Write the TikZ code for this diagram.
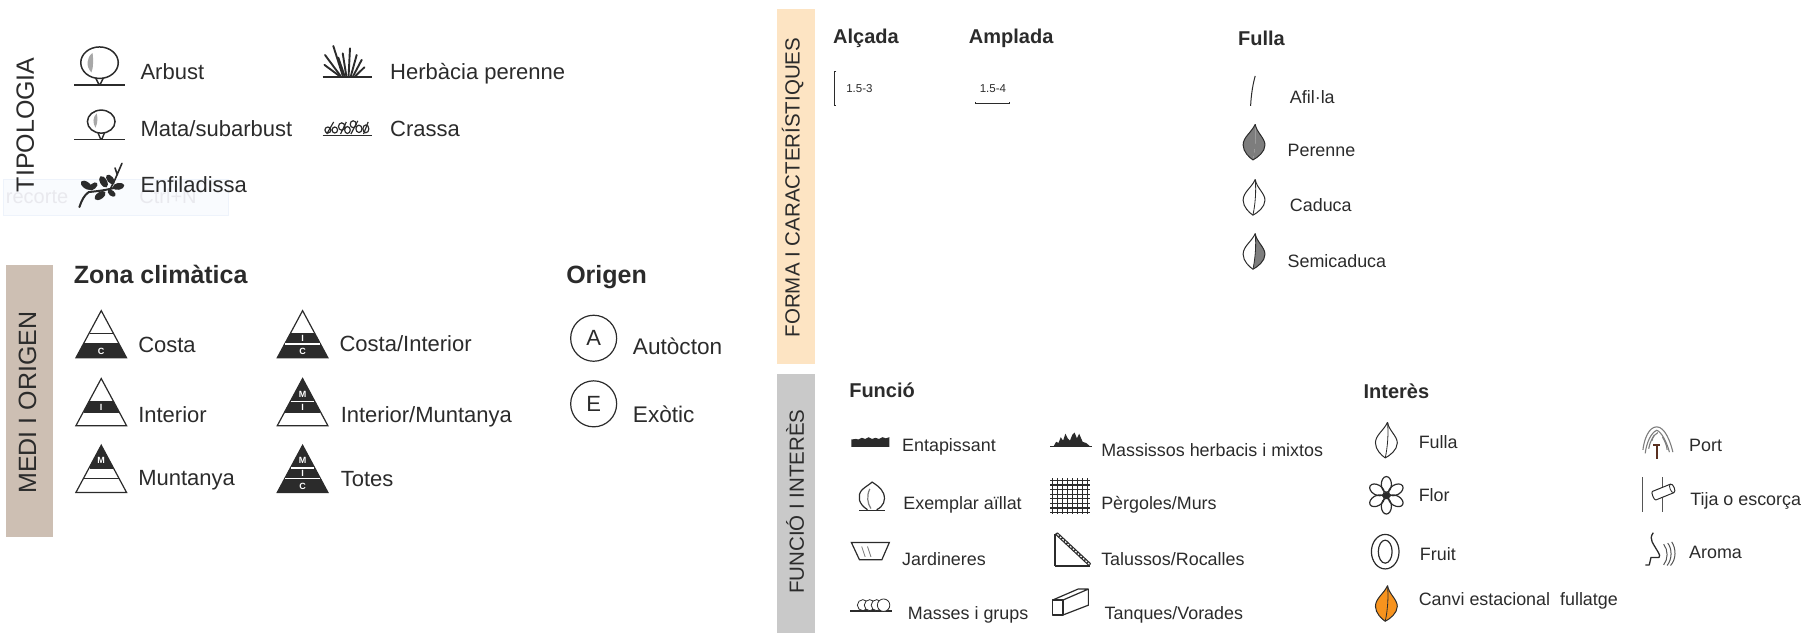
\documentclass[tikz,border=0pt]{standalone}
\usepackage{fontspec}
\setmainfont{Liberation Sans}
\definecolor{ink}{HTML}{2B2B2B}
\definecolor{peach}{HTML}{FDE4C3}
\definecolor{tan}{HTML}{CDBFB3}
\definecolor{bargrey}{HTML}{C9C9C9}
\definecolor{leafgrey}{HTML}{7D7D7D}
\definecolor{blobgrey}{HTML}{A8A8A8}
\definecolor{autumn}{HTML}{F7931E}
\definecolor{palebox}{HTML}{F9FBFE}
\definecolor{paleedge}{HTML}{EEF3FB}
\definecolor{paletext}{HTML}{E9E9EE}
\definecolor{trunk}{HTML}{5A3020}
\tikzset{
  lab/.style={anchor=mid west,inner sep=0pt,yshift=-5.7pt,text=ink,font=\fontsize{22}{24}\selectfont},
  labs/.style={anchor=mid west,inner sep=0pt,yshift=-4.5pt,text=ink,font=\fontsize{17.9}{20}\selectfont},
  head/.style={anchor=mid west,inner sep=0pt,yshift=-7pt,text=ink,font=\bfseries\fontsize{25}{27}\selectfont},
  heads/.style={anchor=mid west,inner sep=0pt,yshift=-4.5pt,text=ink,font=\bfseries\fontsize{20}{22}\selectfont},
  side/.style={rotate=90,inner sep=0pt,text=ink},
  tl/.style={inner sep=0pt,text=white,font=\bfseries\fontsize{9}{10}\selectfont},
  num/.style={inner sep=0pt,text=ink,font=\fontsize{11.5}{12}\selectfont},
  pale/.style={anchor=mid west,inner sep=0pt,yshift=-4.5pt,text=paletext,font=\fontsize{20}{22}\selectfont},
  ic/.style={draw=ink,line width=1.2pt},
  thin/.style={draw=ink,line width=0.8pt},
  ground/.style={draw=ink,line width=1.3pt},
  blade/.style={draw=ink,line width=1.9pt,line cap=round},
  origc/.style={draw=ink,line width=1.2pt,circle,minimum size=46pt,inner sep=0pt,text=ink,font=\fontsize{22}{24}\selectfont},
  portline/.style={draw=leafgrey,line width=1.1pt},
  waveline/.style={draw=ink!80,line width=1pt},
}
\newcommand{\climtri}[8]{%
\begin{scope}[shift={(#1,#2)}]
  \fill[#3] (0,0) -- (10.6,19.7) -- (-10.6,19.7) -- cycle;
  \fill[#4] (10.6,19.7) -- (15.6,29) -- (-15.6,29) -- (-10.6,19.7) -- cycle;
  \fill[#5] (15.6,29) -- (22,41) -- (-22,41) -- (-15.6,29) -- cycle;
  \draw[ic,line join=miter] (0,0) -- (22,41) -- (-22,41) -- cycle;
  \draw[#6,line width=1.3pt] (-10.2,19.7) -- (10.2,19.7);
  \draw[#7,line width=1.3pt] (-15.2,29) -- (15.2,29);
  #8
\end{scope}}
\newcommand{\leaficon}[5]{%
\begin{scope}[shift={(#1,#2)}]
  \fill[#3] (1,-16) .. controls (-2,-9) and (-9.5,-5) .. (-9.5,2) .. controls (-9.5,8) and (-4,13) .. (-1,15) .. controls (1,6) and (2,-6) .. (1,-16) -- cycle;
  \fill[#4] (1,-16) .. controls (2,-9) and (9.5,-4) .. (9.5,2) .. controls (9.5,8) and (3,13) .. (-1,15) .. controls (1,6) and (2,-6) .. (1,-16) -- cycle;
  \draw[draw=ink,line width=1pt,line join=round] (1,-16) .. controls (2,-9) and (9.5,-4) .. (9.5,2) .. controls (9.5,8) and (3,13) .. (-1,15) .. controls (-4,13) and (-9.5,8) .. (-9.5,2) .. controls (-9.5,-5) and (-2,-9) .. (1,-16);
  \path[#5] (-1,15) .. controls (1,6) and (2,-6) .. (1,-16);
\end{scope}}
\begin{document}
\begin{tikzpicture}[x=1.1505pt,y=-1.1505pt]
\useasboundingbox (0,0) rectangle (1568,550);
% bars
\fill[tan] (5,230) rectangle (46,467);
\fill[peach] (675,8) rectangle (708,316);
\fill[bargrey] (675,325) rectangle (708,550);
% pale box
\path[fill=palebox,draw=paleedge] (3,156) rectangle (198,187);
\node[pale] (recorte) at (5,171) {recorte};
\node[pale] (ctrln) at (121,171) {Ctrl+N};
% side labels
\node[side,font=\fontsize{25}{27}\selectfont] (tipologia) at (22,108.5) {TIPOLOGIA};
\node[side,font=\fontsize{25}{27}\selectfont] (medi) at (24,350) {MEDI I ORIGEN};
\node[side,font=\fontsize{20.5}{22}\selectfont] (forma) at (689,163) {FORMA I CARACTERÍSTIQUES};
\node[side,font=\fontsize{20.5}{23}\selectfont] (funcio) at (691,436) {FUNCIÓ I INTERÈS};
% tipologia labels
\node[lab] (arbust) at (122,62) {Arbust};
\node[lab] (mata) at (122,111) {Mata/subarbust};
\node[lab] (enf) at (122,160) {Enfiladissa};
\node[lab] (herb) at (339,62) {Herbàcia perenne};
\node[lab] (crassa) at (339,111) {Crassa};
% arbust icon
\draw[ground] (64.5,74) -- (108.5,74);
\draw[ic,line width=1.5pt] (86.5,54.5) ellipse (16.3 and 13.7);
\draw[ic,line width=1.5pt] (83,67.5) -- (86,73.5) (90,67.5) -- (87,73.5);
\fill[blobgrey] (80.5,46) .. controls (75,50) and (74.5,58) .. (79.5,63) .. controls (81.5,58) and (81,51) .. (80.5,46) -- cycle;
% mata icon
\draw[ground] (64.5,121.5) -- (108.5,121.5);
\draw[ic,line width=1.5pt] (88,105.7) ellipse (12 and 10);
\draw[ic,line width=1.4pt] (85,115) -- (87.5,121) (91,115) -- (88.5,121);
\fill[blobgrey] (84,98.5) .. controls (80.5,102) and (80.5,107) .. (83,111) .. controls (85,107) and (85,102) .. (84,98.5) -- cycle;
% enfiladissa icon
\draw[draw=ink,line width=2pt,line cap=round] (69,180) .. controls (71,174) and (73,170) .. (77,167) .. controls (84,166) and (92,166) .. (107,161);
\draw[draw=ink,line width=1.6pt,line cap=round] (95,166) -- (100,156) -- (106,142) (102,152) -- (100,146);
\fill[ink,rotate around={-35:(75,161)}] (75,161) ellipse (5.5 and 3);
\fill[ink,rotate around={40:(81,162)}] (81,162) ellipse (4.5 and 2.5);
\fill[ink,rotate around={35:(87,170)}] (87,170) ellipse (5.5 and 3);
\fill[ink,rotate around={-60:(90,158)}] (90,158) ellipse (5.5 and 3);
\fill[ink,rotate around={-50:(96,156)}] (96,156) ellipse (5 and 2.8);
\fill[ink,rotate around={10:(103,162)}] (103,162) ellipse (5 and 3);
\fill[ink,rotate around={-40:(100,169)}] (97,170) ellipse (4 and 2.4);
% herbacia icon
\draw[ground] (280.5,67) -- (323.5,67);
\foreach \tipx/\tipy/\basex in {282/56.4/295,282.5/47.8/296,289.7/40/298,294/50/299.5,297.9/46.4/301,304.2/42/303,310/47.8/305,314.4/52/307,316.7/58.5/309}{
  \draw[blade] (\basex,66) -- (\tipx,\tipy);
}
% crassa icon
\draw[ground] (280.5,117.5) -- (323.5,117.5);
\foreach \cx/\cy/\crx/\cry in {285/113/2.6/2.6,291/113/2.4/2.6,297/110/2.8/3.2,302/113/2.4/3,307/108/2.6/3,312/112/2.6/3.2,318/112/2.6/3.4}{
  \draw[draw=ink,line width=1.2pt] (\cx,\cy) ellipse ({\crx} and {\cry});
}
\draw[draw=ink,line width=1.2pt] (284,116.5) -- (290,106) (296,116.5) -- (301,106) (305,116.5) -- (311,105) (316,116.5) -- (320,106);
% medi
\node[head] (zona) at (64,238) {Zona climàtica};
\node[head] (origen) at (492,238) {Origen};
\climtri{88}{270}{white}{white}{ink}{ink}{ink}{\node[tl] (c1) at (0,35.5) {C};}
\climtri{88}{329}{white}{ink}{white}{ink}{ink}{\node[tl] (i1) at (0,25) {I};}
\climtri{88}{387}{ink}{white}{white}{ink}{ink}{\node[tl] (m1) at (0,13.5) {M};}
\climtri{263}{270}{white}{ink}{ink}{ink}{white}{\node[tl] (i2) at (0,24.5) {I};\node[tl] (c2) at (0,35.5) {C};}
\climtri{263}{329}{ink}{ink}{white}{white}{ink}{\node[tl] (m2) at (0,13.5) {M};\node[tl] (i3) at (0,25) {I};}
\climtri{263}{387}{ink}{ink}{ink}{white}{white}{\node[tl] (m3) at (0,13.5) {M};\node[tl] (i4) at (0,24.5) {I};\node[tl] (c3) at (0,35.5) {C};}
\node[lab] (costa) at (120,299) {Costa};
\node[lab] (interior) at (120,360) {Interior};
\node[lab] (muntanya) at (120,415) {Muntanya};
\node[lab] (costaint) at (295,298) {Costa/Interior};
\node[lab] (intmun) at (296,360) {Interior/Muntanya};
\node[lab] (totes) at (296,416) {Totes};
\node[origc] (autoc) at (516,294) {A};
\node[origc] (exot) at (516,351) {E};
\node[lab,font=\fontsize{22.6}{24}\selectfont] (aut) at (550,301) {Autòcton};
\node[lab,font=\fontsize{22.6}{24}\selectfont] (exo) at (550,360) {Exòtic};
% forma
\node[heads] (alc) at (724,32) {Alçada};
\node[heads] (amp) at (842,32) {Amplada};
\node[heads] (ful) at (1076,33) {Fulla};
\draw[thin] (727,62) -- (725,62) -- (725,92) -- (727,92);
\node[num] (n1) at (747,77) {1.5-3};
\node[num] (n2) at (863,77) {1.5-4};
\draw[thin] (848,88.5) -- (848,90) -- (877,90) -- (877,88.5);
\draw[draw=ink,line width=1pt] (1087,92) .. controls (1087.5,82) and (1089,73) .. (1091,66);
\node[labs] (afil) at (1121,84) {Afil·la};
\leaficon{1090}{124}{leafgrey}{leafgrey}{draw=none}
\node[labs] (peren) at (1119,130) {Perenne};
\leaficon{1090}{172}{white}{white}{draw=ink,line width=0.8pt}
\node[labs] (cadu) at (1121,178) {Caduca};
\leaficon{1090}{219}{white}{leafgrey}{draw=ink,line width=0.8pt}
\node[labs] (semi) at (1119,226) {Semicaduca};
% funcio
\node[heads] (func) at (738,339) {Funció};
\node[heads] (inter) at (1185,340) {Interès};
\node[labs] (ent) at (784,386) {Entapissant};
\node[labs] (exem) at (785,437) {Exemplar aïllat};
\node[labs] (jard) at (784,485) {Jardineres};
\node[labs] (mass) at (789,532) {Masses i grups};
\node[labs] (maher) at (957,391) {Massissos herbacis i mixtos};
\node[labs] (perg) at (957,437) {Pèrgoles/Murs};
\node[labs] (talu) at (957,485) {Talussos/Rocalles};
\node[labs] (tanq) at (960,532) {Tanques/Vorades};
\node[labs] (fi) at (1233,384) {Fulla};
\node[labs] (flor) at (1233,430) {Flor};
\node[labs] (fruit) at (1234,481) {Fruit};
\node[labs] (canvi) at (1233,520) {Canvi estacional\hspace{10pt}fullatge};
\node[labs] (port) at (1468,386) {Port};
\node[labs] (tija) at (1469,433) {Tija o escorça};
\node[labs] (aroma) at (1468,479) {Aroma};
% entapissant
\fill[ink] (740,388.5) -- (740,382) -- (744,381.5) -- (746,382) -- (749,380.5) -- (752,381.5) -- (755,380) -- (758,381.5) -- (761,380.5) -- (764,381.5) -- (767,380) -- (770,381) -- (773,380) -- (773,388.5) -- cycle;
% exemplar
\draw[ground] (747,443.5) -- (769,443.5);
\draw[ic] (754,443) .. controls (746,438) and (745,431) .. (749,426) .. controls (752,423) and (756,421) .. (758,419) .. controls (761,421) and (766,424) .. (768,429) .. controls (770,435) and (768,440) .. (762,443);
\draw[draw=leafgrey,line width=1.2pt] (756,425) .. controls (753,431) and (754,438) .. (757,442);
% jardineres
\draw[ic,line join=miter] (740,471.5) -- (773,471.5) -- (766.5,486.5) -- (747,486.5) -- cycle;
\draw[draw=leafgrey,line width=0.8pt] (749,475) -- (752,484) (754,475) -- (757,484);
% masses
\draw[ground] (739,531) -- (775,531);
\draw[thin] (750,526) circle (4.8);
\draw[thin,fill=white] (756,526) circle (4.8);
\draw[thin,fill=white] (762,526) circle (4.8);
\draw[thin,fill=white] (768,526) circle (5.4);
% massissos
\draw[ground] (913,388) -- (949,388);
\fill[ink] (916,387.5) -- (918,384) -- (920,385) -- (922,380) -- (924,383) -- (926,377) -- (928,381) -- (930,383) -- (932,378) -- (934,376) -- (936,381) -- (938,377) -- (941,384) -- (944,385) -- (947,387.5) -- cycle;
% pergoles
\foreach \k in {0,1,...,7}{
  \draw[draw=ink,line width=1.2pt] ({915+\k*4.3},415.5) -- ({915+\k*4.3},447);
  \draw[draw=ink,line width=1.2pt] (913,{417.5+\k*4}) -- (947,{417.5+\k*4});
}
% talussos
\draw[ic,line join=miter] (917,492) -- (917,464) (917,492) -- (947,492);
\draw[draw=ink,line width=1pt] (917,464) -- (947,492);
\draw[draw=ink,line width=1pt] (919,463) -- (948,490);
\draw[draw=ink,line width=1.8pt,dash pattern=on 1.5pt off 2pt] (918,463.5) -- (947.5,491);
% tanques
\draw[ic,line join=round] (915,521.5) rectangle (924,534.5);
\draw[ic,line join=round] (915,521.5) -- (937,512) -- (946,512) -- (924,521.5) (946,512) -- (946,526) -- (924,534.5);
% leaves interes
\leaficon{1205}{383}{white}{white}{draw=ink,line width=0.8pt}
\leaficon{1205}{525}{autumn}{autumn}{draw=ink,line width=0.8pt}
% flor
\foreach \a in {30,90,150,210,270,330}{
  \draw[ic,rotate around={\a:(1205,430.5)}] (1214.5,430.5) ellipse (6.8 and 4.4);
}
\fill[ink] (1205,430.5) circle (3);
% fruit
\draw[ic] (1204,479.5) ellipse (12 and 15);
\draw[ic] (1204,479.5) ellipse (6 and 10);
% port
\draw[portline] (1428,391) .. controls (1429,382) and (1433,371) .. (1440,371) .. controls (1447,371) and (1452,384) .. (1454,393);
\draw[portline] (1430,394) .. controls (1431,385) and (1435,376) .. (1440,374) .. controls (1444,375) and (1449,385) .. (1451,393);
\draw[portline] (1433,390) .. controls (1434,384) and (1437,378) .. (1441,376);
\draw[portline] (1436,383) .. controls (1436,381) and (1437,379) .. (1438,378) (1445,380) .. controls (1447,383) and (1449,388) .. (1449,391);
\draw[draw=trunk,line width=1.8pt] (1440,387) -- (1440,399) (1437,387) -- (1443,387);
% tija
\draw[draw=ink!80,line width=1pt] (1428,415) -- (1428,445);
\draw[draw=ink!80,line width=1pt] (1445,415) -- (1445,445);
\begin{scope}[shift={(1446,427.5)},rotate=22]
  \path[fill=white,draw=ink,line width=1pt,line join=round] (-9,-4) -- (8,-4) .. controls (10.5,-4) and (10.5,4) .. (8,4) -- (-9,4) .. controls (-10.5,4) and (-10.5,-4) .. (-9,-4) -- cycle;
  \draw[draw=ink,line width=0.8pt] (8,-4) .. controls (5.5,-4) and (5.5,4) .. (8,4);
\end{scope}
% aroma
\draw[draw=ink,line width=1.3pt,line join=round] (1437,463) .. controls (1434.5,466) and (1435,469) .. (1436,471) .. controls (1438,475) and (1441,479) .. (1442.5,482.5) -- (1442,484.5) -- (1435,484.5) -- (1433.5,491) -- (1430,491);
\draw[waveline] (1446,473) .. controls (1450,478) and (1450,486) .. (1446,491);
\draw[waveline] (1449.5,472) .. controls (1453.5,477) and (1453.5,486) .. (1449,491.5);
\draw[waveline] (1453,471) .. controls (1457,477) and (1457,486) .. (1452,491.5);
\end{tikzpicture}
\end{document}
